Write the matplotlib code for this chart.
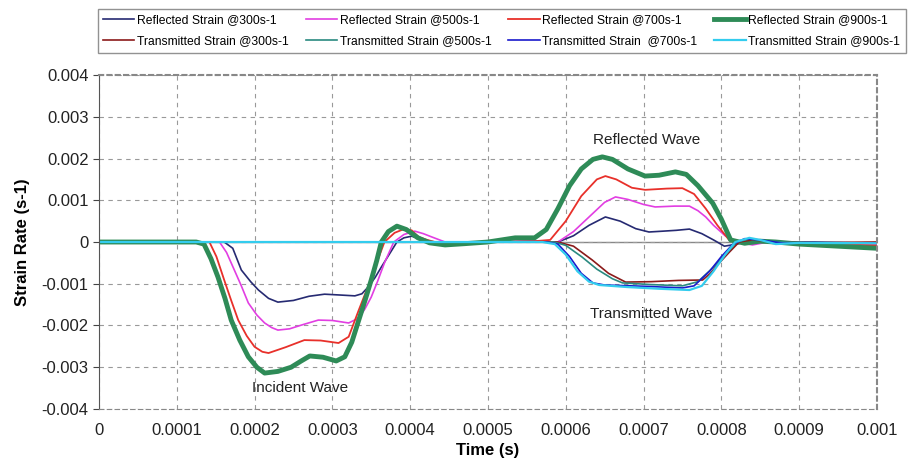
import matplotlib.pyplot as plt

plt.rcParams['font.family'] = ['Liberation Sans', 'DejaVu Sans']

# times in microseconds, strain rate in units of 1e-3 s-1
ref300_t = [0, 150, 161, 172, 183, 195, 205, 218, 230, 250, 270, 290, 310, 329, 338, 346, 355, 363, 373, 383, 392, 402, 411, 419, 440,
            500, 560, 575, 590, 610, 630, 651, 670, 690, 707, 725, 742, 759, 775, 790, 804, 820, 835, 870, 920, 1000]
ref300_v = [0, 0, 0, -0.15, -0.67, -0.95, -1.15, -1.35, -1.44, -1.40, -1.30, -1.25, -1.27, -1.29, -1.24, -1.08, -0.85, -0.60, -0.30, 0.0,
            0.10, 0.14, 0.08, 0.0, -0.02, 0.0, 0.02, 0.0, 0.0, 0.15, 0.40, 0.60, 0.50, 0.32, 0.24, 0.26, 0.28, 0.31, 0.20, 0.05, -0.10,
            -0.05, 0.02, 0.0, 0.0, -0.03]

ref500_t = [0, 145, 155, 164, 174, 183, 192, 203, 213, 222, 230, 245, 262, 282, 300, 321, 334, 342, 350, 358, 367, 373, 379, 392, 406,
            417, 428, 445, 470, 500, 560, 575, 590, 610, 630, 650, 664, 680, 700, 715, 740, 759, 770, 780, 790, 805, 820, 840, 860, 900,
            1000]
ref500_v = [0, 0, 0, -0.25, -0.67, -1.05, -1.46, -1.75, -1.94, -2.05, -2.11, -2.08, -1.98, -1.87, -1.88, -1.94, -1.82, -1.60, -1.32,
            -0.95, -0.50, -0.25, 0.0, 0.18, 0.26, 0.20, 0.12, 0.0, -0.05, 0.0, 0.02, 0.0, 0.0, 0.25, 0.60, 0.95, 1.08, 1.02, 0.90, 0.84,
            0.86, 0.86, 0.75, 0.60, 0.40, 0.15, 0.0, -0.07, 0.0, -0.02, -0.05]

ref700_t = [0, 135, 142, 151, 161, 170, 179, 190, 200, 210, 218, 240, 264, 285, 308, 321, 334, 342, 350, 358, 367, 380, 392, 402, 411,
            422, 432, 463, 500, 560, 580, 600, 620, 640, 651, 665, 685, 702, 730, 750, 765, 780, 795, 810, 825, 850, 900, 1000]
ref700_v = [0, 0, 0, -0.35, -0.91, -1.40, -1.87, -2.25, -2.51, -2.63, -2.66, -2.52, -2.35, -2.36, -2.42, -2.27, -1.63, -1.25, -0.91,
            -0.45, 0.0, 0.22, 0.31, 0.28, 0.12, 0.05, 0.0, -0.05, 0.0, 0.02, 0.05, 0.50, 1.10, 1.50, 1.58, 1.50, 1.30, 1.25, 1.28, 1.29,
            1.15, 0.80, 0.40, 0.05, -0.03, 0.02, -0.03, -0.08]

ref900_t = [0, 125, 135, 144, 153, 162, 170, 181, 192, 203, 213, 230, 247, 260, 271, 288, 305, 316, 325, 334, 342, 350, 357, 363, 372,
            383, 395, 410, 425, 445, 470, 500, 535, 560, 575, 590, 605, 620, 635, 647, 660, 680, 702, 720, 741, 755, 770, 789, 800, 812,
            830, 850, 870, 900, 950, 1000]
ref900_v = [0, 0, -0.05, -0.40, -0.84, -1.35, -1.87, -2.35, -2.75, -3.00, -3.14, -3.10, -3.00, -2.85, -2.73, -2.76, -2.85, -2.75, -2.40,
            -1.87, -1.40, -0.91, -0.45, 0.0, 0.25, 0.38, 0.30, 0.10, -0.02, -0.07, -0.04, 0.0, 0.10, 0.10, 0.30, 0.80, 1.35, 1.75, 1.98,
            2.04, 1.98, 1.75, 1.58, 1.60, 1.68, 1.62, 1.35, 0.93, 0.55, 0.05, -0.03, 0.02, 0.0, -0.05, -0.10, -0.15]

tra300_t = [0, 500, 590, 610, 634, 655, 677, 710, 745, 776, 786, 795, 810, 823, 840, 870, 920, 1000]
tra300_v = [0, 0, 0, -0.10, -0.43, -0.75, -0.96, -0.95, -0.92, -0.91, -0.75, -0.55, -0.25, 0.0, 0.05, 0.0, -0.02, 0.0]

tra500_t = [0, 500, 585, 600, 621, 640, 660, 673, 710, 750, 770, 790, 805, 820, 835, 860, 920, 1000]
tra500_v = [0, 0, 0, -0.08, -0.36, -0.65, -0.88, -0.98, -1.02, -1.05, -0.95, -0.60, -0.30, 0.0, 0.07, 0.02, -0.03, -0.02]

tra700_t = [0, 500, 575, 590, 605, 620, 635, 650, 700, 750, 765, 785, 800, 815, 830, 850, 880, 1000]
tra700_v = [0, 0, 0, -0.05, -0.35, -0.75, -0.98, -1.03, -1.06, -1.10, -1.05, -0.70, -0.35, -0.05, 0.08, 0.05, -0.03, -0.02]

tra900_t = [0, 500, 570, 586, 600, 615, 630, 643, 680, 720, 759, 775, 790, 805, 818, 836, 850, 870, 900, 1000]
tra900_v = [0, 0, 0, -0.05, -0.30, -0.70, -0.95, -1.03, -1.08, -1.12, -1.15, -1.05, -0.70, -0.30, 0.0, 0.10, 0.05, -0.05, -0.02, -0.03]

series = [
    ("Reflected Strain @300s-1", ref300_t, ref300_v, "#262a72", 1.2),
    ("Reflected Strain @500s-1", ref500_t, ref500_v, "#e23ee2", 1.2),
    ("Reflected Strain @700s-1", ref700_t, ref700_v, "#e8302a", 1.3),
    ("Reflected Strain @900s-1", ref900_t, ref900_v, "#2e8b57", 3.5),
    ("Transmitted Strain @300s-1", tra300_t, tra300_v, "#8b1a1a", 1.2),
    ("Transmitted Strain @500s-1", tra500_t, tra500_v, "#2a8a80", 1.2),
    ("Transmitted Strain  @700s-1", tra700_t, tra700_v, "#1a1acc", 1.2),
    ("Transmitted Strain @900s-1", tra900_t, tra900_v, "#33ccee", 1.6),
]

fig = plt.figure(figsize=(9.12, 4.75), dpi=100)
ax = fig.add_axes([0.1085, 0.139, 0.853, 0.703])

ax.axhline(0, color="#888888", lw=1.0, zorder=1)
lines = []
for label, t, v, c, lw in series:
    ln, = ax.plot([x * 1e-6 for x in t], [y * 1e-3 for y in v], color=c, lw=lw, label=label, zorder=2)
    lines.append(ln)

ax.set_xlim(0, 0.001)
ax.set_ylim(-0.004, 0.004)
xt = [i * 0.0001 for i in range(11)]
ax.set_xticks(xt)
ax.set_xticklabels(["0"] + ["%g" % round(x, 4) for x in xt[1:]])
yt = [i * 0.001 for i in range(-4, 5)]
ax.set_yticks(yt)
ax.set_yticklabels(["%g" % round(y, 3) for y in yt])
ax.tick_params(axis="x", length=0, pad=10, labelsize=12, colors="#222222")
ax.tick_params(axis="y", length=4, direction="out", labelsize=12, colors="#222222", color="#444444")
ax.grid(True, ls=(0, (4, 4)), color="#999999", lw=0.8)

ax.spines["left"].set_color("#555555")
ax.spines["bottom"].set_color("#888888")
ax.spines["bottom"].set_linestyle((0, (4, 3)))
for s in ("top", "right"):
    ax.spines[s].set_color("#888888")
    ax.spines[s].set_linestyle((0, (2, 2)))
    ax.spines[s].set_linewidth(1.5)

ax.set_xlabel("Time (s)", fontsize=12, fontweight="bold", labelpad=4)
ax.set_ylabel("Strain Rate (s-1)", fontsize=12, fontweight="bold", labelpad=8)

ax.text(0.000258, -0.0035, "Incident Wave", ha="center", va="center", fontsize=11, color="#222222")
ax.text(0.000704, 0.00244, "Reflected Wave", ha="center", va="center", fontsize=11, color="#222222")
ax.text(0.00071, -0.00172, "Transmitted Wave", ha="center", va="center", fontsize=11, color="#222222")

# legend filled row by row, 4 per row
order = [0, 4, 1, 5, 2, 6, 3, 7]
leg = fig.legend([lines[i] for i in order], [series[i][0] for i in order],
                 loc="center", bbox_to_anchor=(0.107, 0.882, 0.886, 0.106), mode="expand", ncol=4,
                 fontsize=8.7, handlelength=2.6, handletextpad=0.2, columnspacing=0.5, borderpad=0.45,
                 labelspacing=0.75, fancybox=False, frameon=True, borderaxespad=0)
leg.get_frame().set_edgecolor("#777777")
leg.get_frame().set_linewidth(1.0)

fig.savefig("out.png", dpi=100)
